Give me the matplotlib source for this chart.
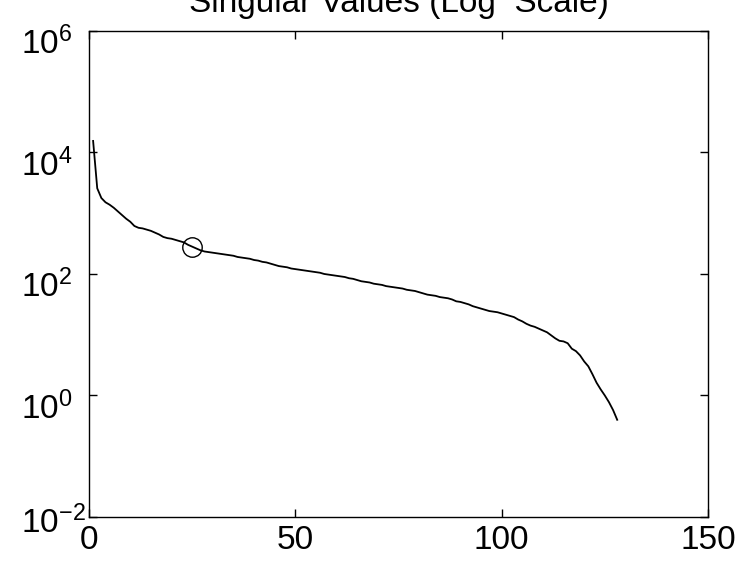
import matplotlib
matplotlib.use("Agg")
import matplotlib.pyplot as plt
import matplotlib.transforms as mtransforms
import numpy as np

plt.rcParams['font.family'] = ['Liberation Sans', 'DejaVu Sans']
plt.rcParams['mathtext.fontset'] = 'custom'
plt.rcParams['mathtext.rm'] = 'Liberation Sans'
plt.rcParams['mathtext.it'] = 'Liberation Sans'

# log10 of the singular values (index 1..128)
sv_log10 = [
    4.19, 3.41, 3.25, 3.18, 3.14, 3.09, 3.03, 2.97, 2.91, 2.86,
    2.79, 2.76, 2.75, 2.73, 2.71, 2.68, 2.65, 2.61, 2.59, 2.58,
    2.56, 2.54, 2.52, 2.48, 2.45, 2.42, 2.39, 2.37, 2.36, 2.35,
    2.34, 2.33, 2.32, 2.31, 2.30, 2.28, 2.27, 2.26, 2.25, 2.23,
    2.22, 2.20, 2.19, 2.17, 2.15, 2.13, 2.12, 2.11, 2.09, 2.08,
    2.07, 2.06, 2.05, 2.04, 2.03, 2.02, 2.00, 1.99, 1.98, 1.97,
    1.96, 1.95, 1.93, 1.92, 1.90, 1.88, 1.87, 1.86, 1.84, 1.83,
    1.82, 1.80, 1.79, 1.78, 1.77, 1.76, 1.74, 1.73, 1.72, 1.70,
    1.68, 1.66, 1.65, 1.64, 1.62, 1.61, 1.60, 1.58, 1.55, 1.54,
    1.52, 1.50, 1.47, 1.45, 1.43, 1.41, 1.39, 1.38, 1.37, 1.35,
    1.33, 1.31, 1.29, 1.25, 1.22, 1.18, 1.15, 1.13, 1.10, 1.07,
    1.04, 0.99, 0.94, 0.90, 0.89, 0.86, 0.77, 0.73, 0.66, 0.56,
    0.48, 0.35, 0.21, 0.10, 0.00, -0.11, -0.24, -0.40,
]
sv = 10 ** np.array(sv_log10)
idx = np.arange(1, len(sv) + 1)

k_marked = 25  # circled singular value

x_ticks = [0, 50, 100, 150]
y_ticks = [1e-2, 1e0, 1e2, 1e4, 1e6]

fig = plt.figure(figsize=(7.44, 5.66), dpi=100)
ax = fig.add_axes([0.1196, 0.0866, 0.832, 0.8587])

ax.semilogy(idx, sv, color='black', linewidth=1.3)
ax.semilogy(idx[k_marked - 1], sv[k_marked - 1], 'o', markersize=14,
            markerfacecolor='none', markeredgecolor='black', markeredgewidth=1.0)

ax.set_xlim(0, 150)
ax.set_ylim(1e-2, 1e6)
ax.set_xticks(x_ticks)
ax.set_yticks(y_ticks)
ax.yaxis.set_minor_locator(matplotlib.ticker.NullLocator())

ax.tick_params(direction='in', length=6, width=1.0, top=True, right=True,
               labelsize=24)
ax.tick_params(axis='x', pad=6)
ax.tick_params(axis='y', pad=49)
for spine in ax.spines.values():
    spine.set_linewidth(1.0)

# matlab style: the "10"s line up on the left, "10" sits a bit under the tick
# (the bottom one stays higher so it clears the x labels)
for i, lbl in enumerate(ax.get_yticklabels()):
    dy = -1.5 if i == 0 else -7
    shift = mtransforms.ScaledTranslation(0, dy / 72, fig.dpi_scale_trans)
    lbl.set_horizontalalignment('left')
    lbl.set_transform(lbl.get_transform() + shift)

ax.set_title('Singular Values (Log  Scale)', fontsize=24, pad=14)

fig.savefig('out.png', dpi=100)
